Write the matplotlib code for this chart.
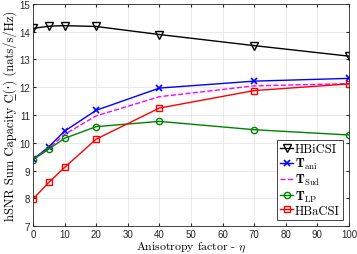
import matplotlib.pyplot as plt

plt.rcParams['mathtext.fontset'] = 'cm'

eta = [0, 5, 10, 20, 40, 70, 100]
hbicsi = [14.12, 14.2, 14.22, 14.19, 13.9, 13.5, 13.12]
t_ani = [9.4, 9.85, 10.42, 11.17, 11.97, 12.22, 12.32]
t_sud = [9.4, 9.8, 10.3, 10.97, 11.66, 12.05, 12.13]
t_lp = [9.39, 9.77, 10.16, 10.58, 10.77, 10.47, 10.28]
hbacsi = [7.97, 8.57, 9.11, 10.13, 11.25, 11.88, 12.12]

labels = ['HBiCSI', r'$\mathbf{T}_{\rm ani}$', r'$\mathbf{T}_{\rm Sud}$',
          r'$\mathbf{T}_{\rm LP}$', 'HBaCSI']
xticks = [0, 10, 20, 30, 40, 50, 60, 70, 80, 90, 100]
yticks = [7, 8, 9, 10, 11, 12, 13, 14, 15]

serif = ['cmr10', 'DejaVu Serif']

fig = plt.figure(figsize=(3.57, 2.55), dpi=100)
ax = fig.add_axes([0.0924, 0.1098, 0.8852, 0.8706])

ax.plot(eta, hbicsi, color='black', marker='v', mfc='none', ms=5.5, lw=1.0, mew=1.0, label=labels[0])
ax.plot(eta, t_ani, color='#0000ff', marker='x', ms=4, lw=1.0, mew=1.2, label=labels[1])
ax.plot(eta, t_sud, color='#ff00ff', ls='--', lw=1.0, label=labels[2])
ax.plot(eta, t_lp, color='#008000', marker='o', mfc='none', ms=4.5, lw=1.0, mew=1.0, label=labels[3])
ax.plot(eta, hbacsi, color='#ff0000', marker='s', mfc='none', ms=4.5, lw=1.0, mew=1.0, label=labels[4])

ax.set_xlim(0, 100)
ax.set_ylim(7, 15)
ax.set_xticks(xticks)
ax.set_yticks(yticks)
ax.tick_params(labelsize=7, direction='in', length=2.5, top=True, right=True,
               colors='#262626', pad=2)
for lab in ax.get_xticklabels() + ax.get_yticklabels():
    lab.set_family('Liberation Sans')
ax.grid(True, color='#e6e6e6', lw=0.6)
ax.set_axisbelow(True)
for s in ax.spines.values():
    s.set_color('#262626')
    s.set_linewidth(0.6)

ax.set_xlabel(r'Anisotropy factor - $\eta$', fontsize=8.5, family=serif, labelpad=1)
ax.set_ylabel('hSNR Sum Capacity C\u0332(\u00b7) (nats/s/Hz)', fontsize=9,
              family=serif, labelpad=2)

leg = ax.legend(loc='lower right', prop={'family': serif, 'size': 9},
                handlelength=1.0, handletextpad=0.15, borderpad=0.25, labelspacing=0.08,
                fancybox=False, edgecolor='#262626', framealpha=1, borderaxespad=0.5)
leg.get_frame().set_linewidth(0.6)

fig.savefig('out.png', dpi=100)
